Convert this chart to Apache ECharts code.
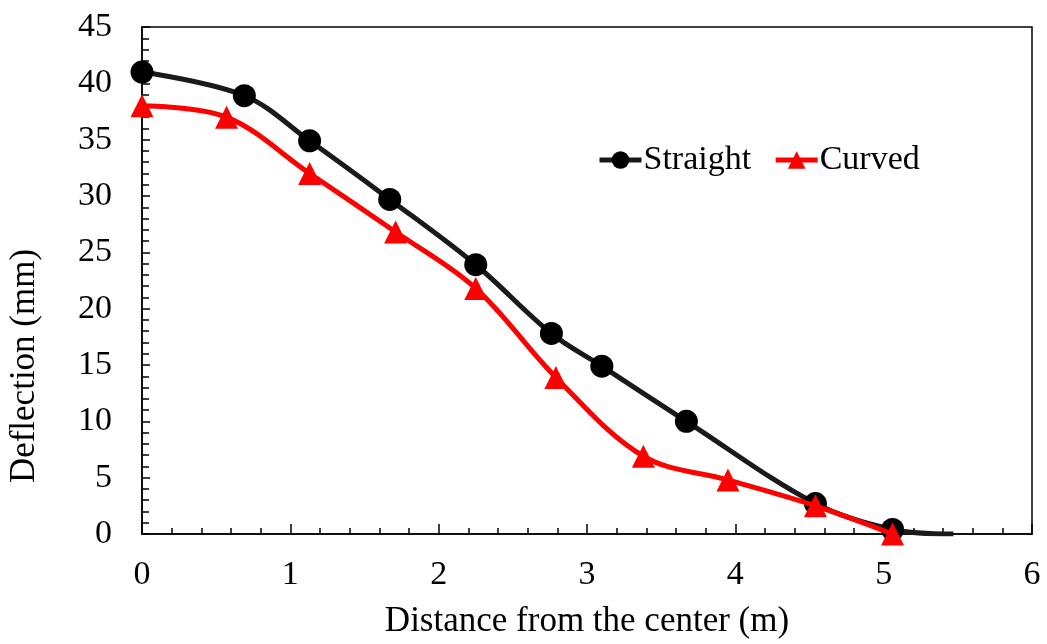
<!DOCTYPE html>
<html><head><meta charset="utf-8">
<script src="https://cdn.jsdelivr.net/npm/echarts@6/dist/echarts.min.js"></script>
<style>html,body{margin:0;padding:0;background:#fff}#c{width:1047px;height:644px}</style>
</head><body><div id="c"></div>
<script>
var straightX = [0, 0.69, 1.13, 1.67, 2.25, 2.76, 3.10, 3.67, 4.54, 5.06, 5.47];
var straightY = [41, 38.9, 34.9, 29.7, 23.9, 17.8, 14.9, 10, 2.7, 0.4, 0];
var curvedX = [0, 0.57, 1.13, 1.71, 2.25, 2.79, 3.38, 3.95, 4.54, 5.06];
var curvedY = [38, 37, 32, 26.8, 21.8, 13.9, 6.9, 4.8, 2.5, 0];
var xTicks = ['0','1','2','3','4','5','6'];
var seriesNames = ['Straight', 'Curved'];
var xTitle = 'Distance from the center (m)';
var yTitle = 'Deflection (mm)';

function pairs(xs, ys, noMarkLast) {
  return xs.map(function (x, i) {
    var d = { value: [x, ys[i]] };
    if (noMarkLast && i === xs.length - 1) d.symbol = 'none';
    return d;
  });
}
var font = 'Liberation Serif, Times New Roman, serif';
var chart = echarts.init(document.getElementById('c'));
chart.setOption({
  animation: false,
  textStyle: { fontFamily: font, color: '#000' },
  grid: { left: 142, right: 15, top: 27, bottom: 101, show: true, borderColor: '#000', borderWidth: 1.5, containLabel: false },
  graphic: [{
    type: 'text', x: 25, y: 366, rotation: Math.PI / 2,
    style: { text: yTitle, fontFamily: font, fontSize: 35, fill: '#000', align: 'center', verticalAlign: 'middle' }
  }],
  legend: {
    left: 592, top: 138, itemWidth: 42, itemHeight: 22, itemGap: 22,
    textStyle: { fontFamily: font, fontSize: 34, color: '#000', padding: [0, 0, 0, -3] },
    lineStyle: { width: 5 },
    data: seriesNames
  },
  xAxis: {
    type: 'value', min: 0, max: 6, interval: 1,
    name: xTitle, nameLocation: 'middle', nameGap: 70,
    nameTextStyle: { fontFamily: font, fontSize: 35, color: '#000' },
    axisLine: { lineStyle: { color: '#000', width: 1.5 } },
    axisTick: { inside: true, length: 10, lineStyle: { color: '#000', width: 1.5 } },
    minorTick: { show: true, splitNumber: 5, length: 6, lineStyle: { color: '#000', width: 1.5 } },
    axisLabel: { fontFamily: font, fontSize: 34, color: '#000', margin: 24, formatter: function (v) { return xTicks[Math.round(v)]; } },
    splitLine: { show: false }
  },
  yAxis: {
    type: 'value', min: 0, max: 45, interval: 5,
    axisLine: { lineStyle: { color: '#000', width: 1.5 } },
    axisTick: { inside: true, length: 8, lineStyle: { color: '#000', width: 1.5 } },
    minorTick: { show: true, splitNumber: 5, length: 7, lineStyle: { color: '#000', width: 1.5 } },
    axisLabel: { fontFamily: font, fontSize: 34, color: '#000', margin: 30 },
    splitLine: { show: false }
  },
  series: [
    {
      name: seriesNames[0], type: 'line', smooth: 0.35,
      data: pairs(straightX, straightY, true),
      symbol: 'circle', symbolSize: 23,
      itemStyle: { color: '#000' },
      lineStyle: { color: '#1a1a1a', width: 5 },
      z: 2
    },
    {
      name: seriesNames[1], type: 'line', smooth: 0.35,
      data: pairs(curvedX, curvedY, false),
      symbol: 'triangle', symbolSize: 23,
      itemStyle: { color: '#ff0000' },
      lineStyle: { color: '#ff0000', width: 5 },
      z: 3
    }
  ]
});
</script></body></html>
